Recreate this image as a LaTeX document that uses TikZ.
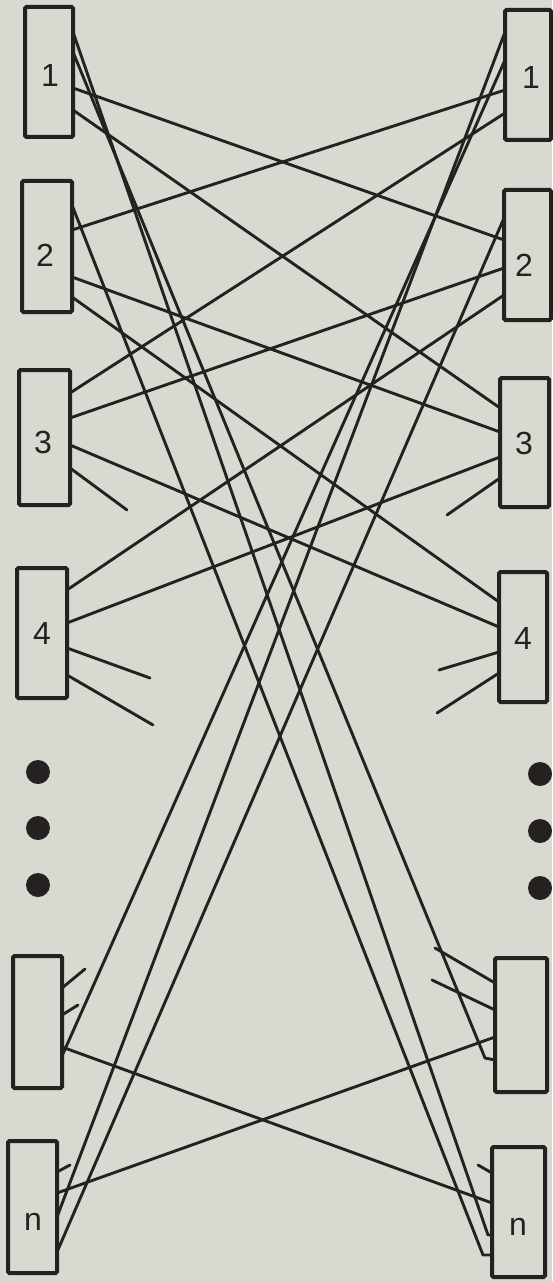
\documentclass[tikz,border=0pt]{standalone}
\usepackage{fontspec}
\setmainfont{Liberation Sans}
\definecolor{bg}{RGB}{216,217,209}
\definecolor{ink}{RGB}{38,33,33}
\begin{document}
\begin{tikzpicture}[x=1pt,y=-1pt,
  box/.style={draw=ink, line width=4pt, rounded corners=1.5pt, fill=bg, inner sep=0pt},
  wire/.style={draw=ink, line width=2.9pt, line cap=round, line join=round},
  lab/.style={text=ink, font=\fontsize{32}{32}\selectfont, inner sep=0pt},
  blob/.style={circle, fill=ink, minimum size=24pt, inner sep=0pt}]
\fill[bg] (0,0) rectangle (552,1281);
\useasboundingbox (0,0) rectangle (552,1281);
% left boxes
\node[box, minimum width=48pt, minimum height=130pt] (L1) at (49,72) {};
\node[box, minimum width=50pt, minimum height=131pt] (L2) at (47,246.5) {};
\node[box, minimum width=51pt, minimum height=135pt] (L3) at (44.5,437.5) {};
\node[box, minimum width=50pt, minimum height=130pt] (L4) at (42,633) {};
\node[box, minimum width=49pt, minimum height=132pt] (L5) at (37.5,1022) {};
\node[box, minimum width=49pt, minimum height=132pt] (Ln) at (32.5,1207) {};
% right boxes
\node[box, minimum width=46pt, minimum height=130pt] (R1) at (528,75) {};
\node[box, minimum width=47pt, minimum height=130pt] (R2) at (527.5,255) {};
\node[box, minimum width=49pt, minimum height=129pt] (R3) at (524.5,442.5) {};
\node[box, minimum width=48pt, minimum height=130pt] (R4) at (523,637) {};
\node[box, minimum width=52pt, minimum height=134pt] (R5) at (521,1025) {};
\node[box, minimum width=53pt, minimum height=130pt] (Rn) at (518.5,1212) {};
% labels
\node[lab] (tL1) at (50,75) {1};
\node[lab] (tL2) at (45,255) {2};
\node[lab] (tL3) at (43,442) {3};
\node[lab] (tL4) at (42,633) {4};
\node[lab] (tLn) at (33,1222) {n};
\node[lab] (tR1) at (531,77) {1};
\node[lab] (tR2) at (524,265) {2};
\node[lab] (tR3) at (524,443) {3};
\node[lab] (tR4) at (523,638) {4};
\node[lab] (tRn) at (518,1227) {n};
% dots
\node[blob] (dl1) at (38,772) {};
\node[blob] (dl2) at (38,828) {};
\node[blob] (dl3) at (38,885) {};
\node[blob] (dr1) at (540,774) {};
\node[blob] (dr2) at (540,831) {};
\node[blob] (dr3) at (540,888) {};
% ports left
\coordinate (L1a) at (73,32);  \coordinate (L1b) at (73,52);
\coordinate (L1c) at (73,88);  \coordinate (L1d) at (73,110);
\coordinate (L2a) at (72,205); \coordinate (L2b) at (72,230);
\coordinate (L2c) at (72,277); \coordinate (L2d) at (72,297);
\coordinate (L3a) at (70,393); \coordinate (L3b) at (70,418);
\coordinate (L3c) at (70,445); \coordinate (L3d) at (70,468);
\coordinate (L4a) at (67,590); \coordinate (L4b) at (67,623);
\coordinate (L4c) at (67,648); \coordinate (L4d) at (67,675);
\coordinate (L5a) at (62,988); \coordinate (L5b) at (62,1015);
\coordinate (L5c) at (62,1047); \coordinate (L5d) at (62,1056);
\coordinate (Lna) at (57,1172); \coordinate (Lnb) at (57,1193);
\coordinate (Lnc) at (57,1217); \coordinate (Lnd) at (57,1252);
% ports right
\coordinate (R1a) at (505,32);  \coordinate (R1b) at (505,60);
\coordinate (R1c) at (505,90);  \coordinate (R1d) at (505,113);
\coordinate (R2a) at (504,218); \coordinate (R2b) at (504,240);
\coordinate (R2c) at (504,268); \coordinate (R2d) at (504,295);
\coordinate (R3a) at (500,408); \coordinate (R3b) at (500,432);
\coordinate (R3c) at (500,457); \coordinate (R3d) at (500,478);
\coordinate (R4a) at (499,602); \coordinate (R4b) at (499,627);
\coordinate (R4c) at (499,652); \coordinate (R4d) at (499,673);
\coordinate (R5a) at (495,983); \coordinate (R5b) at (495,1010);
\coordinate (R5c) at (495,1037); \coordinate (R5d) at (495,1060);
\coordinate (R5h) at (485,1058);
\coordinate (Rna) at (492,1173); \coordinate (Rnb) at (492,1203);
\coordinate (Rnc) at (492,1235); \coordinate (Rnch) at (488,1235);
\coordinate (Rnd) at (492,1255); \coordinate (Rndh) at (483,1255);
% stub ends
\coordinate (sL3) at (127,510);
\coordinate (sL4a) at (150,678); \coordinate (sL4b) at (153,725);
\coordinate (sL5a) at (85,969);  \coordinate (sL5b) at (78,1005);
\coordinate (sLn) at (70,1165);
\coordinate (sR3) at (447,515);
\coordinate (sR4a) at (439,670); \coordinate (sR4b) at (437,713);
\coordinate (sR5a) at (435,948); \coordinate (sR5b) at (432,980);
\coordinate (sRn) at (478,1165);
% wires
\draw[wire] (L1a) -- (Rnch) -- (Rnc);
\draw[wire] (L1b) -- (R5h) -- (R5d);
\draw[wire] (L1c) -- (R2b);
\draw[wire] (L1d) -- (R3a);
\draw[wire] (L2a) -- (Rndh) -- (Rnd);
\draw[wire] (L2b) -- (R1c);
\draw[wire] (L2c) -- (R3b);
\draw[wire] (L2d) -- (R4a);
\draw[wire] (L3a) -- (R1d);
\draw[wire] (L3b) -- (R2c);
\draw[wire] (L3c) -- (R4b);
\draw[wire] (L3d) -- (sL3);
\draw[wire] (L4a) -- (R2d);
\draw[wire] (L4b) -- (R3c);
\draw[wire] (L4c) -- (sL4a);
\draw[wire] (L4d) -- (sL4b);
\draw[wire] (L5a) -- (sL5a);
\draw[wire] (L5b) -- (sL5b);
\draw[wire] (L5c) -- (Rnb);
\draw[wire] (L5d) -- (R1b);
\draw[wire] (Lna) -- (sLn);
\draw[wire] (Lnb) -- (R5c);
\draw[wire] (Lnc) -- (R1a);
\draw[wire] (Lnd) -- (R2a);
\draw[wire] (R3d) -- (sR3);
\draw[wire] (R4c) -- (sR4a);
\draw[wire] (R4d) -- (sR4b);
\draw[wire] (R5a) -- (sR5a);
\draw[wire] (R5b) -- (sR5b);
\draw[wire] (Rna) -- (sRn);
\end{tikzpicture}
\end{document}
